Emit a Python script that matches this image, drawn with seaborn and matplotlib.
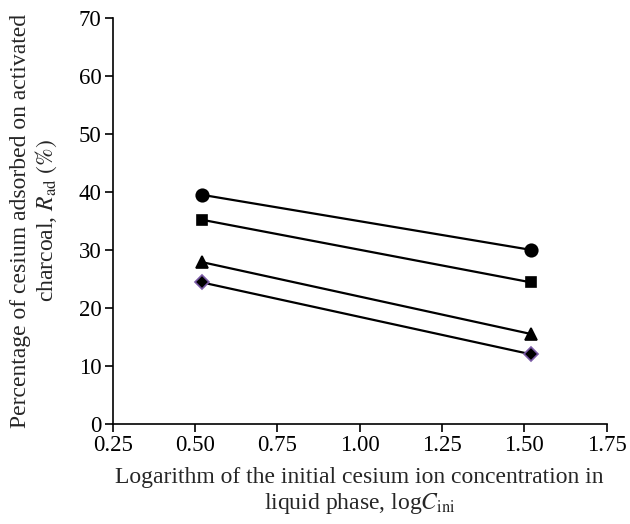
import pandas as pd
import matplotlib
matplotlib.use("Agg")
import matplotlib.pyplot as plt
import seaborn as sns

# ----------------------------
# Data
# ----------------------------
log_c_ini = [0.52, 1.52]
series_circle = [39.5, 30.0]
series_square = [35.2, 24.4]
series_triangle = [27.9, 15.5]
series_diamond = [24.4, 12.0]

sns.set_style("ticks")
plt.rcParams['font.family'] = ['Liberation Serif', 'DejaVu Serif']
plt.rcParams['mathtext.fontset'] = 'stix'

fig = plt.figure(figsize=(6.3, 5.24), dpi=100)
ax = fig.add_axes([0.179, 0.191, 0.784, 0.775])

styles = [
    (series_circle, 'o', 9, 'black'),
    (series_square, 's', 6.8, 'black'),
    (series_triangle, '^', 8.5, 'black'),
    (series_diamond, 'D', 7.2, '#7a5aa6'),
]
for values, mk, ms, edge in styles:
    df = pd.DataFrame({'x': log_c_ini, 'y': values})
    sns.lineplot(data=df, x='x', y='y', ax=ax, color='black', linewidth=1.6,
                 marker=mk, markersize=ms, markerfacecolor='black',
                 markeredgecolor=edge, markeredgewidth=1.2)

ax.set_xlim(0.25, 1.75)
ax.set_ylim(0, 70)
ax.set_xticks([0.25, 0.50, 0.75, 1.00, 1.25, 1.50, 1.75])
ax.set_xticklabels(['0.25', '0.50', '0.75', '1.00', '1.25', '1.50', '1.75'])
ax.set_yticks(range(0, 71, 10))
ax.tick_params(axis='both', direction='out', length=6, width=1.2, labelsize=16.5,
               colors='black', pad=2)
for side in ['top', 'right']:
    ax.spines[side].set_visible(False)
for side in ['left', 'bottom']:
    ax.spines[side].set_linewidth(1.2)
    ax.spines[side].set_color('black')

ax.set_xlabel("Logarithm of the initial cesium ion concentration in\n"
              "liquid phase, log$\\mathit{C}_{\\mathrm{ini}}$",
              fontsize=17, linespacing=1.15, labelpad=8)
ax.set_ylabel("Percentage of cesium adsorbed on activated\n"
              "charcoal, $\\mathit{R}_{\\mathrm{ad}}$ $\\mathit{(\\%)}$",
              fontsize=17, linespacing=1.15, labelpad=14)

plt.savefig("out.png", dpi=100)
